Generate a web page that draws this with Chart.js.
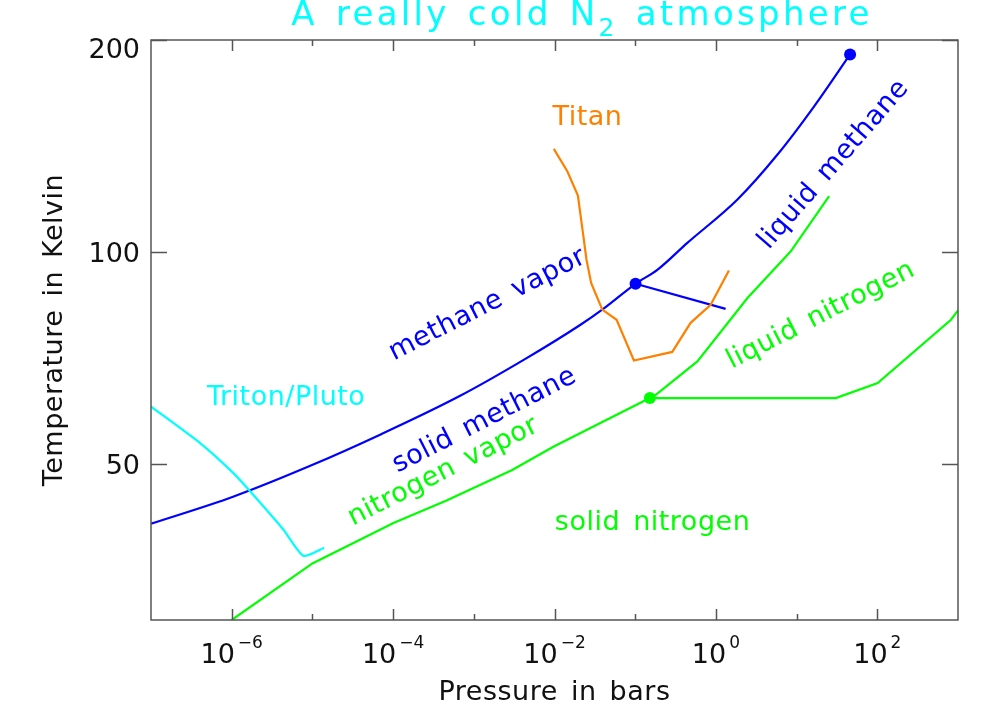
<!DOCTYPE html>
<html><head><meta charset="utf-8">
<script src="https://cdn.jsdelivr.net/npm/chart.js@4"></script>
<style>html,body{margin:0;padding:0;background:#fff}#wrap{width:1008px;height:720px}</style>
</head><body><div id="wrap"><canvas id="c" width="1008" height="720"></canvas></div>
<script>
// ---------- data (pressure in bars, temperature in K) ----------
const methaneVaporP = [1e-7, 1.04e-6, 9.9e-6, 6.9e-5, 6.5e-4, 4.2e-3, 0.021, 0.039, 0.101, 0.188, 0.443, 1.85, 5.8, 16.5, 46];
const methaneVaporT = [41.1, 44.9, 49.8, 55.0, 62.3, 70.3, 78.8, 82.8, 90.1, 94.3, 103.0, 118.7, 137.5, 161.0, 190.8];
const methaneMeltP = [0.101, 1.32];
const methaneMeltT = [90.1, 83.0];
const titanP = [0.0098, 0.0144, 0.0195, 0.0231, 0.0249, 0.0285, 0.0391, 0.0588, 0.0964, 0.288, 0.486, 0.861, 1.45];
const titanT = [140.1, 130.2, 120.2, 104.1, 97.5, 90.3, 82.8, 80.1, 70.1, 72.1, 79.3, 84.1, 94.1];
const tritonP = [1e-7, 4.06e-7, 1.05e-6, 1.69e-6, 4.38e-6, 7.76e-6, 1.40e-5];
const tritonT = [60.3, 53.5, 48.5, 45.7, 40.3, 37.0, 38.0];
const nitrogenVaporP = [1e-6, 1.0e-5, 1.01e-4, 4.67e-4, 2.99e-3, 9.8e-3, 0.152, 0.188, 0.589, 2.46, 8.47, 25.3];
const nitrogenVaporT = [30.0, 36.1, 41.2, 44.4, 49.0, 52.9, 62.0, 62.9, 69.9, 86.0, 100.2, 120.0];
const nitrogenMeltP = [0.152, 30.6, 101, 818, 1000];
const nitrogenMeltT = [62.0, 62.0, 65.1, 80.1, 82.6];
const methanePointsP = [0.101, 46];
const methanePointsT = [90.1, 190.8];
const nitrogenPointsP = [0.152];
const nitrogenPointsT = [62.0];

const xTickValues = [1e-6, 1e-5, 1e-4, 1e-3, 1e-2, 1e-1, 1e0, 1e1, 1e2];
const xLabelValues = [1e-6, 1e-4, 1e-2, 1e0, 1e2];
const xLabelExponents = ['\u22126', '\u22124', '\u22122', '0', '2'];
const yTickValues = [50, 100, 200];
const yTickLabels = ['50', '100', '200'];

const titleParts = ['A really cold N', '2', ' atmosphere'];
const xTitle = 'Pressure in bars';
const yTitle = 'Temperature in Kelvin';

// region labels: text, anchor pressure, anchor temperature, angle in degrees
const regionText = ['Titan', 'Triton/Pluto', 'methane vapor', 'solid methane', 'nitrogen vapor', 'liquid methane', 'liquid nitrogen', 'solid nitrogen'];
const regionP = [0.0256, 4.73e-6, 1.48e-3, 1.36e-3, 4.2e-4, 28.9, 20, 0.164];
const regionT = [155, 62.1, 84.1, 57.6, 48.7, 133, 81.2, 41.2];
const regionAngle = [0, 0, -27, -27, -27, -49, -27, 0];

const BLUE = '#0000ff', GREEN = '#00ff00', ORANGE = '#ff8000', CYAN = '#00ffff';
const regionColor = [ORANGE, CYAN, BLUE, BLUE, GREEN, BLUE, GREEN, GREEN];

function pts(P, T) { return P.map((p, i) => ({x: p, y: T[i]})); }

const FAM = '"DejaVu Sans", "Liberation Sans", sans-serif';
const f = (s) => s + 'px ' + FAM;
function spacing(ctx, ls, ws) {
  ctx.letterSpacing = ls + 'px';
  ctx.wordSpacing = ws + 'px';
}

const decor = {
  id: 'decor',
  afterDatasetsDraw(chart) {
    const ctx = chart.ctx, a = chart.chartArea;
    const xs = chart.scales.x, ys = chart.scales.y;
    ctx.save();
    // region labels
    ctx.textAlign = 'center';
    ctx.textBaseline = 'middle';
    ctx.font = f(27);
    spacing(ctx, 0.5, 4);
    regionText.forEach((t, i) => {
      ctx.save();
      ctx.translate(xs.getPixelForValue(regionP[i]), ys.getPixelForValue(regionT[i]));
      ctx.rotate(regionAngle[i] * Math.PI / 180);
      ctx.fillStyle = regionColor[i];
      ctx.fillText(t, 0, 0);
      ctx.restore();
    });
    spacing(ctx, 0, 0);
    // frame
    ctx.strokeStyle = '#555';
    ctx.lineWidth = 1.5;
    ctx.strokeRect(a.left, a.top, a.right - a.left, a.bottom - a.top);
    // x ticks
    xTickValues.forEach(v => {
      const px = Math.round(xs.getPixelForValue(v)) + 0.5;
      const len = xLabelValues.includes(v) ? 11 : 6;
      ctx.beginPath();
      ctx.moveTo(px, a.bottom); ctx.lineTo(px, a.bottom - len);
      ctx.moveTo(px, a.top); ctx.lineTo(px, a.top + len);
      ctx.stroke();
    });
    yTickValues.forEach(v => {
      const py = Math.round(ys.getPixelForValue(v)) + 0.5;
      ctx.beginPath();
      ctx.moveTo(a.left, py); ctx.lineTo(a.left + 16, py);
      ctx.moveTo(a.right, py); ctx.lineTo(a.right - 16, py);
      ctx.stroke();
    });
    // x tick labels with superscripts
    ctx.fillStyle = '#111';
    ctx.textBaseline = 'alphabetic';
    ctx.textAlign = 'left';
    xLabelValues.forEach((v, i) => {
      const px = xs.getPixelForValue(v);
      ctx.font = f(27);
      const w1 = ctx.measureText('10').width;
      ctx.font = f(17);
      const w2 = ctx.measureText(xLabelExponents[i]).width;
      const x0 = px - (w1 + 3 + w2) / 2;
      ctx.font = f(27);
      ctx.fillText('10', x0, a.bottom + 43);
      ctx.font = f(17);
      ctx.fillText(xLabelExponents[i], x0 + w1 + 3, a.bottom + 28);
    });
    // y tick labels
    ctx.textAlign = 'right';
    ctx.textBaseline = 'middle';
    ctx.font = f(27);
    yTickValues.forEach((v, i) => {
      const py = Math.max(ys.getPixelForValue(v) + 3, a.top + 11);
      ctx.fillText(yTickLabels[i], a.left - 11, py);
    });
    // axis titles
    ctx.font = f(27);
    spacing(ctx, 0.5, 4);
    ctx.textAlign = 'center';
    ctx.textBaseline = 'alphabetic';
    ctx.fillText(xTitle, (a.left + a.right) / 2, a.bottom + 80);
    ctx.save();
    ctx.translate(62, (a.top + a.bottom) / 2);
    ctx.rotate(-Math.PI / 2);
    ctx.fillText(yTitle, 0, 0);
    ctx.restore();
    // title with subscript
    ctx.fillStyle = CYAN;
    ctx.textAlign = 'left';
    spacing(ctx, 3.3, 4);
    ctx.font = f(34);
    const tw1 = ctx.measureText(titleParts[0]).width;
    const tw3 = ctx.measureText(titleParts[2]).width;
    ctx.font = f(25);
    const tw2 = ctx.measureText(titleParts[1]).width;
    const tx = 582 - (tw1 + tw2 + tw3) / 2;
    ctx.font = f(34);
    ctx.fillText(titleParts[0], tx, 25);
    ctx.font = f(25);
    ctx.fillText(titleParts[1], tx + tw1, 36);
    ctx.font = f(34);
    ctx.fillText(titleParts[2], tx + tw1 + tw2, 25);
    ctx.restore();
  }
};

const lineDs = (P, T, color, tension, mode) => ({
  data: pts(P, T), borderColor: color, backgroundColor: color, borderWidth: 2.2,
  showLine: true, pointRadius: 0, fill: false,
  tension: tension, cubicInterpolationMode: mode || 'default'
});
const dotDs = (P, T, color) => ({
  data: pts(P, T), borderColor: color, backgroundColor: color, showLine: false,
  pointRadius: 6, pointBorderWidth: 0
});

new Chart(document.getElementById('c'), {
  type: 'scatter',
  data: {
    datasets: [
      lineDs(tritonP, tritonT, CYAN, 0.2),
      lineDs(titanP, titanT, ORANGE, 0),
      lineDs(nitrogenVaporP, nitrogenVaporT, GREEN, 0),
      lineDs(nitrogenMeltP, nitrogenMeltT, GREEN, 0),
      lineDs(methaneVaporP, methaneVaporT, BLUE, 0.4, 'monotone'),
      lineDs(methaneMeltP, methaneMeltT, BLUE, 0),
      dotDs(methanePointsP, methanePointsT, BLUE),
      dotDs(nitrogenPointsP, nitrogenPointsT, GREEN)
    ]
  },
  options: {
    responsive: false,
    animation: false,
    devicePixelRatio: 1,
    layout: {padding: {left: 151, top: 40, right: 50, bottom: 100}},
    plugins: {legend: {display: false}, tooltip: {enabled: false}, title: {display: false}},
    scales: {
      x: {type: 'logarithmic', min: 1e-7, max: 1e3, display: false},
      y: {type: 'logarithmic', min: 30, max: 200, display: false}
    }
  },
  plugins: [decor]
});
</script>
</body></html>
